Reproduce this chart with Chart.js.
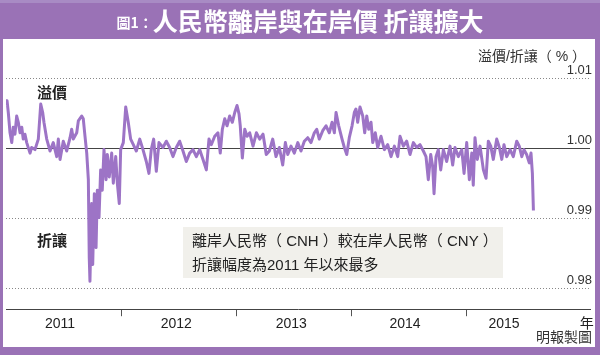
<!DOCTYPE html>
<html>
<head>
<meta charset="utf-8">
<script src="https://cdn.jsdelivr.net/npm/chart.js@4.4.1/dist/chart.umd.min.js"></script>
<style>
  html, body { margin: 0; padding: 0; background: #9a72b6; }
  #wrap { width: 600px; height: 355px; }
</style>
</head>
<body>
<div id="wrap"><canvas id="chart" width="600" height="355"></canvas></div>
<script>
// CNH vs CNY (ratio); dates as decimal years
var dates = [
  2011.000, 2011.009, 2011.020, 2011.035, 2011.050, 2011.063, 2011.078, 2011.093, 2011.107, 2011.122,
  2011.137, 2011.150, 2011.165, 2011.180, 2011.209, 2011.223, 2011.252, 2011.281, 2011.302, 2011.319,
  2011.330, 2011.354, 2011.383, 2011.411, 2011.441, 2011.455, 2011.470, 2011.498, 2011.528, 2011.557,
  2011.571, 2011.585, 2011.615, 2011.629, 2011.658, 2011.672, 2011.687, 2011.702, 2011.716, 2011.724,
  2011.730, 2011.745, 2011.754, 2011.768, 2011.783, 2011.794, 2011.809, 2011.823, 2011.837, 2011.852,
  2011.870, 2011.881, 2011.898, 2011.919, 2011.933, 2011.954, 2011.968, 2011.985, 2011.997,
  2012.020, 2012.041, 2012.063, 2012.084, 2012.107, 2012.133, 2012.163, 2012.191, 2012.220, 2012.243,
  2012.263, 2012.284, 2012.307, 2012.330, 2012.365, 2012.394, 2012.423, 2012.452, 2012.481, 2012.510,
  2012.539, 2012.568, 2012.597, 2012.626, 2012.655, 2012.684, 2012.713, 2012.742, 2012.765, 2012.785,
  2012.815, 2012.843, 2012.863, 2012.881, 2012.902, 2012.922, 2012.945, 2012.968, 2012.989,
  2013.009, 2013.026, 2013.037, 2013.055, 2013.076, 2013.096, 2013.119, 2013.148, 2013.177, 2013.206,
  2013.235, 2013.263, 2013.290, 2013.319, 2013.348, 2013.377, 2013.406, 2013.429, 2013.450, 2013.478,
  2013.507, 2013.537, 2013.565, 2013.594, 2013.624, 2013.652, 2013.681, 2013.702, 2013.724, 2013.754,
  2013.783, 2013.811, 2013.835, 2013.855, 2013.870, 2013.893, 2013.922, 2013.942, 2013.963, 2013.985,
  2014.009, 2014.029, 2014.043, 2014.058, 2014.078, 2014.102, 2014.119, 2014.137, 2014.154, 2014.174,
  2014.189, 2014.211, 2014.232, 2014.261, 2014.290, 2014.319, 2014.348, 2014.377, 2014.406, 2014.426,
  2014.455, 2014.484, 2014.513, 2014.542, 2014.571, 2014.600, 2014.629, 2014.652, 2014.672, 2014.693,
  2014.710, 2014.722, 2014.739, 2014.759, 2014.780, 2014.803, 2014.832, 2014.861, 2014.884, 2014.904,
  2014.933, 2014.963, 2014.983,
  2015.006, 2015.029, 2015.050, 2015.063, 2015.078, 2015.098, 2015.122, 2015.151, 2015.174, 2015.194,
  2015.215, 2015.237, 2015.267, 2015.290, 2015.311, 2015.330, 2015.354, 2015.383, 2015.411, 2015.441,
  2015.463, 2015.485, 2015.504, 2015.527, 2015.550, 2015.565, 2015.577, 2015.586
];
var values = [
  1.0060, 1.0067, 1.0050, 1.0021, 1.0007, 1.0029, 1.0019, 1.0045, 1.0036, 1.0021,
  1.0029, 1.0012, 1.0019, 1.0007, 0.9992, 1.0000, 0.9997, 1.0012, 1.0062, 1.0050,
  1.0036, 1.0012, 0.9995, 1.0007, 0.9987, 1.0012, 0.9983, 1.0009, 0.9995, 1.0014,
  1.0026, 1.0012, 1.0021, 1.0038, 1.0045, 1.0041, 1.0016, 0.9992, 0.9954, 0.9842,
  0.9809, 0.9920, 0.9833, 0.9934, 0.9857, 0.9939, 0.9900, 0.9968, 0.9939, 0.9997,
  0.9954, 0.9990, 0.9958, 0.9992, 0.9949, 0.9987, 0.9949, 0.9920, 0.9997,
  1.0007, 1.0058, 1.0036, 1.0012, 1.0004, 0.9995, 1.0012, 0.9997, 0.9980, 0.9963,
  0.9997, 1.0012, 0.9966, 1.0007, 1.0000, 1.0009, 1.0000, 0.9987, 1.0000, 1.0009,
  0.9995, 0.9980, 0.9992, 0.9997, 0.9987, 0.9997, 0.9983, 0.9968, 1.0012, 1.0004,
  1.0016, 1.0021, 0.9992, 1.0026, 1.0041, 1.0031, 1.0045, 1.0036, 1.0050,
  1.0060, 1.0048, 1.0031, 0.9985, 1.0026, 1.0016, 1.0021, 1.0002, 1.0021, 1.0012,
  1.0019, 0.9990, 0.9995, 1.0012, 0.9987, 1.0000, 0.9975, 1.0007, 0.9990, 1.0002,
  0.9992, 1.0007, 0.9995, 1.0009, 1.0014, 1.0007, 1.0021, 1.0026, 1.0012, 1.0024,
  1.0031, 1.0021, 1.0036, 1.0021, 1.0050, 1.0031, 1.0012, 1.0000, 0.9990, 1.0014,
  1.0031, 1.0050, 1.0055, 1.0036, 1.0058, 1.0045, 1.0021, 1.0045, 1.0026, 1.0036,
  1.0007, 1.0021, 1.0000, 1.0016, 0.9997, 1.0004, 0.9987, 1.0002, 0.9987, 1.0016,
  1.0002, 1.0009, 0.9990, 1.0007, 1.0000, 1.0004, 0.9995, 0.9987, 0.9954, 0.9990,
  0.9973, 0.9934, 0.9987, 0.9997, 0.9968, 0.9997, 0.9980, 1.0002, 0.9975, 1.0000,
  0.9987, 0.9997, 0.9963,
  1.0007, 0.9954, 0.9992, 0.9946, 1.0014, 0.9983, 1.0002, 0.9968, 0.9956, 1.0009,
  1.0002, 0.9983, 1.0012, 1.0000, 0.9983, 1.0004, 0.9987, 0.9997, 0.9987, 1.0009,
  1.0002, 0.9987, 0.9997, 0.9990, 0.9978, 0.9992, 0.9963, 0.9910
];
var yTicks = [0.98, 0.99, 1.00, 1.01];
var yearTicks = [2012, 2013, 2014, 2015];
var yearLabelPos = [2011.47, 2012.48, 2013.48, 2014.47, 2015.33, 2016.05];
var yearLabels = ['2011', '2012', '2013', '2014', '2015', '年'];

var PURPLE = '#9a72b6';
var CJK = "'Noto Sans CJK TC', sans-serif";
var LATIN = "'Liberation Sans', 'Noto Sans CJK TC', sans-serif";

var points = [];
for (var i = 0; i < dates.length; i++) {
  points.push({ x: dates[i], y: values[i] });
}

var decor = {
  id: 'decor',
  beforeDraw: function(chart) {
    var ctx = chart.ctx;
    ctx.save();
    ctx.fillStyle = PURPLE;
    ctx.fillRect(0, 0, chart.width, chart.height);
    ctx.fillStyle = '#a88bc4';
    ctx.fillRect(0, 0, chart.width, 3);
    ctx.fillStyle = '#ffffff';
    ctx.fillRect(3, 39, 592, 308);

    // title
    ctx.fillStyle = '#ffffff';
    ctx.textBaseline = 'middle';
    ctx.textAlign = 'left';
    var small = 'bold 14px ' + CJK;
    var big = 'bold 25px ' + CJK;
    var s1 = '圖1：', s2 = '人民幣離岸與在岸價 折讓擴大';
    ctx.font = small;
    var w1 = ctx.measureText(s1).width;
    ctx.font = big;
    var w2 = ctx.measureText(s2).width;
    var x0 = 300 - (w1 + w2) / 2;
    ctx.font = small;
    ctx.fillText(s1, x0, 23);
    ctx.font = big;
    ctx.fillText(s2, x0 + w1, 21);
    ctx.restore();
  },
  beforeDatasetsDraw: function(chart) {
    var ctx = chart.ctx, area = chart.chartArea, y = chart.scales.y;
    ctx.save();
    // horizontal grid
    y.ticks.forEach(function(t) {
      var py = Math.round(y.getPixelForValue(t.value)) + 0.5;
      ctx.beginPath();
      if (Math.abs(t.value - 1) < 1e-9) {
        ctx.setLineDash([]);
        ctx.strokeStyle = '#444';
      } else {
        ctx.setLineDash([1, 2]);
        ctx.strokeStyle = '#888';
      }
      ctx.lineWidth = 1;
      ctx.moveTo(area.left, py);
      ctx.lineTo(area.right, py);
      ctx.stroke();
    });
    ctx.setLineDash([]);

    // note box
    ctx.fillStyle = '#f1f0eb';
    ctx.fillRect(183, 227, 320, 51);
    ctx.fillStyle = '#222';
    ctx.textBaseline = 'middle';
    ctx.textAlign = 'left';
    ctx.font = '15px ' + LATIN;
    ctx.fillText('離岸人民幣（ CNH ）較在岸人民幣（ CNY ）', 192, 242);
    ctx.fillText('折讓幅度為2011 年以來最多', 192, 266);

    ctx.font = 'bold 15px ' + CJK;
    ctx.fillText('溢價', 37, 92);
    ctx.fillText('折讓', 37, 240);

    ctx.textAlign = 'right';
    ctx.font = '14px ' + LATIN;
    ctx.fillStyle = '#333';
    ctx.fillText('溢價/折讓（ % ）', 586, 57);
    ctx.font = '14px ' + CJK;
    ctx.fillText('明報製圖', 592, 337);
    ctx.restore();
  }
};

new Chart(document.getElementById('chart'), {
  type: 'line',
  data: {
    datasets: [{
      data: points,
      borderColor: '#9d74c6',
      borderWidth: 3,
      borderJoinStyle: 'round',
      pointRadius: 0,
      tension: 0,
      fill: false
    }]
  },
  options: {
    responsive: false,
    animation: false,
    events: [],
    layout: { padding: { left: 6, right: 6, top: 39, bottom: 22 } },
    plugins: { legend: { display: false }, tooltip: { enabled: false } },
    scales: {
      x: {
        type: 'linear',
        min: 2011,
        max: 2016.078,
        afterBuildTicks: function(axis) {
          axis.ticks = yearTicks.concat(yearLabelPos).sort(function(a, b) { return a - b; })
            .map(function(v) { return { value: v }; });
        },
        grid: {
          drawOnChartArea: false,
          drawTicks: true,
          tickLength: 7,
          tickWidth: 1,
          color: function(c) {
            return (c.tick && yearTicks.indexOf(c.tick.value) >= 0) ? '#555' : 'rgba(0,0,0,0)';
          }
        },
        border: { display: true, color: '#444', width: 1 },
        ticks: {
          autoSkip: false,
          maxRotation: 0,
          padding: 0,
          color: '#222',
          font: { size: 14, family: LATIN },
          callback: function(v) {
            var k = yearLabelPos.indexOf(v);
            return k >= 0 ? yearLabels[k] : '';
          }
        }
      },
      y: {
        position: 'right',
        min: 0.9769,
        max: 1.0155,
        afterBuildTicks: function(axis) {
          axis.ticks = yTicks.map(function(v) { return { value: v }; });
        },
        grid: { display: false, drawTicks: false },
        border: { display: false },
        ticks: {
          mirror: true,
          padding: 2,
          labelOffset: -7,
          color: '#333',
          font: { size: 13, family: LATIN },
          callback: function(v) { return v.toFixed(2); }
        }
      }
    }
  },
  plugins: [decor]
});
</script>
</body>
</html>
